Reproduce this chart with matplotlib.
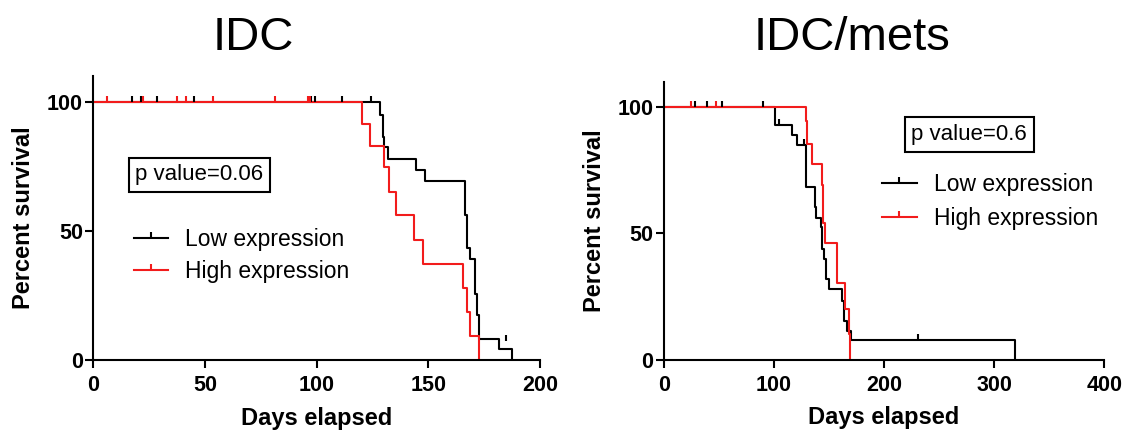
import matplotlib
matplotlib.use('Agg')
import matplotlib.pyplot as plt
from matplotlib.lines import Line2D

plt.rcParams['font.family'] = ['Liberation Sans', 'DejaVu Sans']

# IDC panel
idc_low_t = [0, 128.1, 129.7, 130.3, 132.1, 144.5, 148.5, 166.5, 167.3, 168.6, 170.7, 171.8, 172.6, 181.5, 187.4]
idc_low_s = [100, 94.9, 86.5, 82.4, 77.9, 73.7, 69.2, 56.2, 43.2, 39.1, 25.6, 17.3, 8.3, 4.2, 0]
idc_high_t = [0, 120.4, 123.6, 130.3, 132.4, 135.3, 143.7, 147.7, 165.4, 167.3, 168.6, 172.6]
idc_high_s = [100, 91.4, 83.0, 74.7, 65.1, 56.0, 46.5, 37.3, 27.9, 18.6, 9.2, 0]
idc_low_cens_t = [17.4, 21.4, 28.3, 45.2, 97.5, 99.2, 111.5, 124.2, 184.7]
idc_low_cens_s = [100, 100, 100, 100, 100, 100, 100, 100, 7.5]
idc_high_cens_t = [6.1, 22.2, 37.3, 41.3, 53.3, 81.5, 96.0, 96.8]
idc_high_cens_s = [100, 100, 100, 100, 100, 100, 100, 100]

# IDC/mets panel
mets_low_t = [0, 100.9, 116.9, 121.2, 128.9, 129.6, 137.6, 138.5, 142.8, 143.6, 145.2, 147.2, 150.3, 161.7, 164.1, 166.2, 170.3, 318.8]
mets_low_s = [100, 92.7, 88.8, 84.8, 76.6, 68.5, 60.6, 56.2, 52.4, 44.0, 40.0, 31.9, 27.9, 23.5, 15.6, 11.6, 7.9, 0]
mets_high_t = [0, 128.9, 130.0, 134.4, 143.6, 144.6, 146.3, 157.6, 164.9, 168.6, 169.4]
mets_high_s = [100, 94.3, 85.5, 77.4, 69.2, 54.0, 46.3, 30.5, 20.2, 10.1, 0]
mets_low_cens_t = [28.6, 39.8, 53.0, 90.3, 104.5, 127.4, 231.0]
mets_low_cens_s = [100, 100, 100, 100, 92.7, 84.8, 7.9]
mets_high_cens_t = [24.7, 47.6]
mets_high_cens_s = [100, 100]

group_labels = ['Low expression', 'High expression']
titles = ['IDC', 'IDC/mets']
p_texts = ['p value=0.06', 'p value=0.6']

RED = '#f21c1c'
TICK = [(0, 0), (0, 1)]


def panel(ax, lt, ls, ht, hs, lct, lcs, hct, hcs, xmax, ptext, ppos, legpos, legspace):
    ax.step(lt, ls, where='post', color='black', lw=1.5)
    ax.step(ht, hs, where='post', color=RED, lw=1.5)
    ax.plot(lct, lcs, ls='none', marker=TICK, ms=9, mew=1.5, color='black', clip_on=False)
    ax.plot(hct, hcs, ls='none', marker=TICK, ms=9, mew=1.5, color=RED, clip_on=False)

    ax.set_xlim(0, xmax)
    ax.set_ylim(0, 110)
    ax.set_xticks(range(0, xmax + 1, 50 if xmax == 200 else 100))
    ax.set_yticks([0, 50, 100])
    for s in ['top', 'right']:
        ax.spines[s].set_visible(False)
    for s in ['left', 'bottom']:
        ax.spines[s].set_linewidth(1.5)
    ax.tick_params(axis='both', length=6, width=1.5, labelsize=15.5)
    ax.tick_params(axis='x', pad=4.5)
    ax.tick_params(axis='y', pad=1.5)
    plt.setp(ax.get_xticklabels() + ax.get_yticklabels(), fontweight='bold')

    ax.set_xlabel('Days elapsed', fontsize=17, fontweight='bold')
    ax.set_ylabel('Percent survival', fontsize=17, fontweight='bold')
    ax.xaxis.set_label_coords(0.5, -0.165)
    ax.yaxis.set_label_coords(-0.13, 0.5)

    ax.text(ppos[0], ppos[1], ptext, transform=ax.transAxes, fontsize=16,
            ha='center', va='center',
            bbox=dict(boxstyle='square,pad=0.3', fc='white', ec='black', lw=1.5))

    handles = [Line2D([], [], color='black', lw=1.5, marker=TICK, ms=9, mew=1.5),
               Line2D([], [], color=RED, lw=1.5, marker=TICK, ms=9, mew=1.5)]
    ax.legend(handles, group_labels, loc='upper left', bbox_to_anchor=legpos,
              frameon=False, fontsize=16.5, handlelength=1.5, handletextpad=0.75,
              labelspacing=legspace, borderpad=0, borderaxespad=0)


fig = plt.figure(figsize=(11.25, 4.3), dpi=100)
ax1 = fig.add_axes([0.0831, 0.1628, 0.397, 0.6605])
ax2 = fig.add_axes([0.5899, 0.1628, 0.3918, 0.6472])

panel(ax1, idc_low_t, idc_low_s, idc_high_t, idc_high_s,
      idc_low_cens_t, idc_low_cens_s, idc_high_cens_t, idc_high_cens_s,
      200, p_texts[0], (0.237, 0.652), (0.09, 0.465), 0.4)
panel(ax2, mets_low_t, mets_low_s, mets_high_t, mets_high_s,
      mets_low_cens_t, mets_low_cens_s, mets_high_cens_t, mets_high_cens_s,
      400, p_texts[1], (0.693, 0.81), (0.496, 0.672), 0.47)

fig.text(0.225, 0.884, titles[0], fontsize=34, ha='center', va='baseline')
fig.text(0.757, 0.884, titles[1], fontsize=34, ha='center', va='baseline')

fig.savefig('out.png', dpi=100, facecolor='white')
